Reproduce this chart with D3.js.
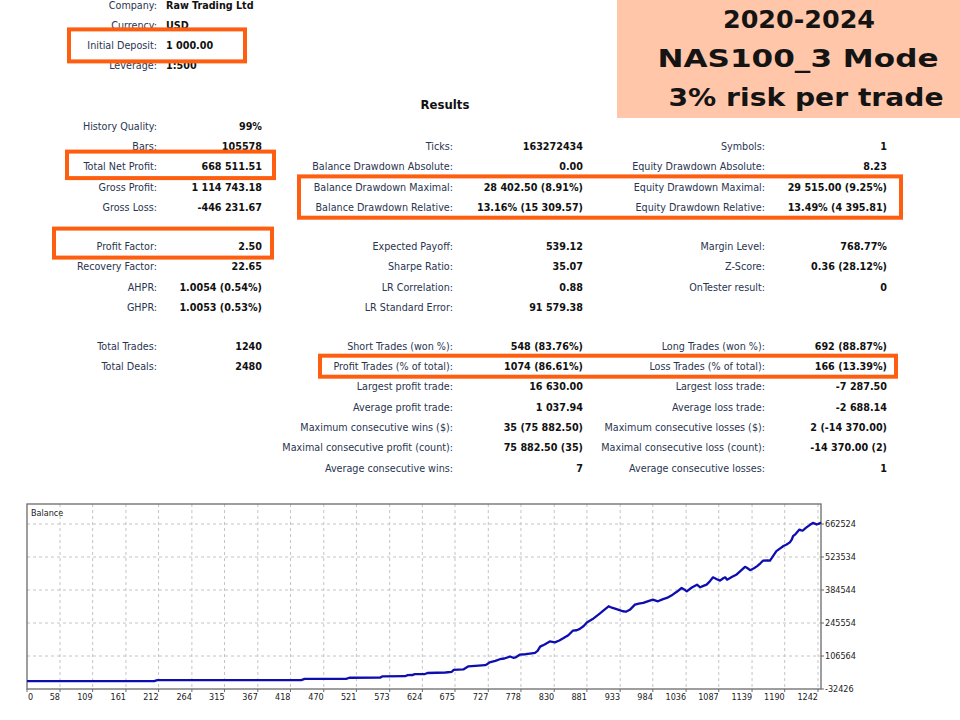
<!DOCTYPE html>
<html><head><meta charset="utf-8">
<script src="https://cdn.jsdelivr.net/npm/d3@7"></script>
<style>
html,body{margin:0;padding:0;background:#fff;}
svg{display:block;}
</style></head>
<body>
<svg id="c" width="960" height="720"></svg>
<script>
// ---------- data ----------
const headerLabels = ["Company:", "Currency:", "Initial Deposit:", "Leverage:"];
const headerValues = ["Raw Trading Ltd", "USD", "1 000.00", "1:500"];

const col1Rows   = [0, 1, 2, 3, 4, 5, 6, 7, 8, 9, 10];
const col1Labels = ["History Quality:", "Bars:", "Total Net Profit:", "Gross Profit:", "Gross Loss:",
  "Profit Factor:", "Recovery Factor:", "AHPR:", "GHPR:", "Total Trades:", "Total Deals:"];
const col1Values = ["99%", "105578", "668 511.51", "1 114 743.18", "-446 231.67",
  "2.50", "22.65", "1.0054 (0.54%)", "1.0053 (0.53%)", "1240", "2480"];

const col2Rows   = [1, 2, 3, 4, 5, 6, 7, 8, 9, 10, 11, 12, 13, 14, 15];
const col2Labels = ["Ticks:", "Balance Drawdown Absolute:", "Balance Drawdown Maximal:", "Balance Drawdown Relative:",
  "Expected Payoff:", "Sharpe Ratio:", "LR Correlation:", "LR Standard Error:",
  "Short Trades (won %):", "Profit Trades (% of total):", "Largest profit trade:", "Average profit trade:",
  "Maximum consecutive wins ($):", "Maximal consecutive profit (count):", "Average consecutive wins:"];
const col2Values = ["163272434", "0.00", "28 402.50 (8.91%)", "13.16% (15 309.57)",
  "539.12", "35.07", "0.88", "91 579.38",
  "548 (83.76%)", "1074 (86.61%)", "16 630.00", "1 037.94",
  "35 (75 882.50)", "75 882.50 (35)", "7"];

const col3Rows   = [1, 2, 3, 4, 5, 6, 7, 9, 10, 11, 12, 13, 14, 15];
const col3Labels = ["Symbols:", "Equity Drawdown Absolute:", "Equity Drawdown Maximal:", "Equity Drawdown Relative:",
  "Margin Level:", "Z-Score:", "OnTester result:",
  "Long Trades (won %):", "Loss Trades (% of total):", "Largest loss trade:", "Average loss trade:",
  "Maximum consecutive losses ($):", "Maximal consecutive loss (count):", "Average consecutive losses:"];
const col3Values = ["1", "8.23", "29 515.00 (9.25%)", "13.49% (4 395.81)",
  "768.77%", "0.36 (28.12%)", "0",
  "692 (88.87%)", "166 (13.39%)", "-7 287.50", "-2 688.14",
  "2 (-14 370.00)", "-14 370.00 (2)", "1"];

const titleLines = ["2020-2024", "NAS100_3 Mode", "3% risk per trade"];
const resultsTitle = "Results";
const chartTitle = "Balance";

// balance curve (trade number, balance)
const tradeNo = [0, 205, 210, 435, 440, 505, 510, 558, 562, 597, 601, 609, 612, 628, 632, 660, 670, 673, 688, 696,
  722, 725, 729, 738, 745, 752, 761, 766, 770, 776, 785, 792, 800, 804, 808, 815, 823, 831, 838, 844,
  852, 859, 865, 870, 876, 881, 890, 901, 910, 915, 920, 925, 932, 937, 942, 948, 956, 962, 969, 977,
  984, 992, 1000, 1006, 1015, 1022, 1029, 1033, 1037, 1045, 1053, 1058, 1063, 1068, 1073, 1078, 1084, 1089, 1094, 1097,
  1100, 1108, 1115, 1122, 1128, 1132, 1136, 1142, 1147, 1152, 1156, 1163, 1167, 1172, 1177, 1183, 1188, 1193, 1198, 1201,
  1203, 1207, 1213, 1216, 1218, 1224, 1229, 1234, 1238, 1240, 1244, 1247];
const balance = [1000, 1000, 5000, 5200, 10000, 10200, 15000, 15500, 21000, 21500, 26000, 26500, 30000, 30500, 35000, 37000, 40000, 48000, 50000, 63000,
  68000, 72000, 80000, 86000, 93000, 96000, 104500, 99000, 101000, 112000, 114000, 117000, 120000, 128000, 146000, 155000, 168000, 164000, 172000, 181000,
  194000, 213000, 215000, 221000, 233000, 248000, 262000, 285000, 305000, 316000, 310000, 306000, 300000, 295000, 293000, 301000, 323000, 327000, 330000, 338000,
  344000, 337000, 346000, 351000, 365000, 378000, 393000, 387000, 379000, 395000, 407000, 396000, 402000, 407000, 421000, 438000, 430000, 424000, 434000, 438000,
  428000, 440000, 450000, 467000, 482000, 476000, 468000, 476000, 485000, 497000, 508000, 509000, 508000, 528000, 548000, 560000, 570000, 576000, 585000, 597000,
  611000, 620000, 639000, 636000, 635000, 648000, 658000, 667000, 663000, 660500, 664000, 669511];

const xTickValues = [0, 58, 109, 161, 212, 264, 315, 367, 418, 470, 521, 573, 624, 675, 727, 778, 830, 881, 933, 984, 1036, 1087, 1139, 1190, 1242];
const yTickValues = [-32426, 106564, 245554, 384544, 523534, 662524];

// ---------- layout ----------
const FONT = "'DejaVu Sans Condensed', 'DejaVu Sans', sans-serif";
const LABEL_COLOR = "#2a3550";
const ORANGE = "#fd5e0f";
const svg = d3.select("#c");

// peach title block
svg.append("rect").attr("x", 617).attr("y", 0).attr("width", 343).attr("height", 118).attr("fill", "#ffc6a9");
const titleX = [799, 798, 806];
const titleBase = [27.5, 66.5, 106];
const titleLen = [152, 281, 275];
svg.selectAll("text.title").data(titleLines).join("text")
  .attr("class", "title")
  .attr("x", (d, i) => titleX[i]).attr("y", (d, i) => titleBase[i])
  .attr("text-anchor", "middle")
  .attr("textLength", (d, i) => titleLen[i]).attr("lengthAdjust", "spacingAndGlyphs")
  .attr("font-family", "'DejaVu Sans', sans-serif").attr("font-weight", "bold").attr("font-size", 25)
  .attr("fill", "#141414").text(d => d);

// header block
const headerY = i => 5 + i * 20.2;
const hdr = svg.append("g").attr("font-family", FONT).attr("font-size", 10.7);
hdr.selectAll("text.hl").data(headerLabels).join("text").attr("class", "hl")
  .attr("x", 157).attr("y", (d, i) => headerY(i)).attr("dy", "0.36em")
  .attr("text-anchor", "end").attr("fill", LABEL_COLOR).text(d => d);
hdr.selectAll("text.hv").data(headerValues).join("text").attr("class", "hv")
  .attr("x", 166).attr("y", (d, i) => headerY(i)).attr("dy", "0.36em")
  .attr("font-weight", "bold").attr("fill", "#111").text(d => d);

// results title
svg.append("text").attr("x", 445).attr("y", 104).attr("dy", "0.36em").attr("text-anchor", "middle")
  .attr("font-family", FONT).attr("font-size", 13).attr("font-weight", "bold").attr("fill", "#111")
  .text(resultsTitle);

// table rows
const ROW_H = 20.3, GAP = 18.6;
const rowY = r => 126 + r * ROW_H + (r >= 5 ? GAP : 0) + (r >= 9 ? GAP : 0);

function drawColumn(rows, labels, values, labelEnd, valueEnd) {
  const g = svg.append("g").attr("font-family", FONT).attr("font-size", 10.7);
  g.selectAll("text.l").data(labels).join("text").attr("class", "l")
    .attr("x", labelEnd).attr("y", (d, i) => rowY(rows[i])).attr("dy", "0.36em")
    .attr("text-anchor", "end").attr("fill", LABEL_COLOR).text(d => d);
  g.selectAll("text.v").data(values).join("text").attr("class", "v")
    .attr("x", valueEnd).attr("y", (d, i) => rowY(rows[i])).attr("dy", "0.36em")
    .attr("text-anchor", "end").attr("font-weight", "bold").attr("fill", "#111").text(d => d);
}
drawColumn(col1Rows, col1Labels, col1Values, 157, 262);
drawColumn(col2Rows, col2Labels, col2Values, 453, 583);
drawColumn(col3Rows, col3Labels, col3Values, 765, 887);

// orange highlight boxes (annotation layout)
const boxes = [
  {x0: 69, x1: 245, y0: headerY(2) - 16, y1: headerY(2) + 16},
  {x0: 67, x1: 274, y0: rowY(2) - 15, y1: rowY(2) + 11.5},
  {x0: 54, x1: 272, y0: rowY(5) - 17.5, y1: rowY(5) + 11.5},
  {x0: 299, x1: 901, y0: rowY(3) - 10.5, y1: rowY(4) + 10.5},
  {x0: 320, x1: 896, y0: rowY(10) - 10.5, y1: rowY(10) + 10.5}
];
svg.selectAll("rect.hl").data(boxes).join("rect").attr("class", "hl")
  .attr("x", d => d.x0).attr("y", d => d.y0)
  .attr("width", d => d.x1 - d.x0).attr("height", d => d.y1 - d.y0)
  .attr("fill", "none").attr("stroke", ORANGE).attr("stroke-width", 4);

// ---------- balance chart ----------
const frame = {left: 27, right: 821, top: 504, bottom: 689};
const x = d3.scaleLinear().domain([6.45, 1246.7]).range([frame.left, frame.right]).clamp(true);
const y = d3.scaleLinear().domain([-32426, 662524]).range([frame.bottom, 524]);

const chart = svg.append("g");
chart.append("rect").attr("x", frame.left).attr("y", frame.top)
  .attr("width", frame.right - frame.left).attr("height", frame.bottom - frame.top).attr("fill", "#fff");

// grid
chart.selectAll("line.gx").data(xTickValues.slice(1)).join("line").attr("class", "gx")
  .attr("x1", d => x(d)).attr("x2", d => x(d)).attr("y1", frame.top).attr("y2", frame.bottom)
  .attr("stroke", "#c4c4c4").attr("stroke-dasharray", "3,3").attr("stroke-width", 1);
chart.selectAll("line.gy").data(yTickValues.slice(1)).join("line").attr("class", "gy")
  .attr("x1", frame.left).attr("x2", frame.right).attr("y1", d => y(d)).attr("y2", d => y(d))
  .attr("stroke", "#c4c4c4").attr("stroke-dasharray", "3,3").attr("stroke-width", 1);

// frame
chart.append("rect").attr("x", frame.left).attr("y", frame.top)
  .attr("width", frame.right - frame.left).attr("height", frame.bottom - frame.top)
  .attr("fill", "none").attr("stroke", "#6a6a6a").attr("stroke-width", 1.3);

// ticks
chart.selectAll("line.tx").data(xTickValues).join("line").attr("class", "tx")
  .attr("x1", d => x(d)).attr("x2", d => x(d)).attr("y1", frame.bottom).attr("y2", frame.bottom + 3)
  .attr("stroke", "#6a6a6a");
chart.selectAll("line.ty").data(yTickValues).join("line").attr("class", "ty")
  .attr("x1", frame.right).attr("x2", frame.right + 3).attr("y1", d => y(d)).attr("y2", d => y(d))
  .attr("stroke", "#6a6a6a");

// tick labels
chart.selectAll("text.lx").data(xTickValues).join("text").attr("class", "lx")
  .attr("x", (d, i) => i === 0 ? x(d) + 1 : x(d)).attr("y", 697).attr("dy", "0.36em")
  .attr("text-anchor", (d, i) => i === 0 ? "start" : "end")
  .attr("font-family", FONT).attr("font-size", 9).attr("fill", "#222").text(d => d);
chart.selectAll("text.ly").data(yTickValues).join("text").attr("class", "ly")
  .attr("x", frame.right + 4).attr("y", d => y(d)).attr("dy", "0.36em")
  .attr("font-family", FONT).attr("font-size", 9).attr("fill", "#222").text(d => d);

chart.append("text").attr("x", 31).attr("y", 512.5).attr("dy", "0.36em")
  .attr("font-family", FONT).attr("font-size", 9).attr("fill", "#222").text(chartTitle);

// balance line
const pts = tradeNo.map((t, i) => ({t, v: balance[i]}));
chart.append("path").datum(pts)
  .attr("d", d3.line().x(d => x(d.t)).y(d => y(d.v)))
  .attr("fill", "none").attr("stroke", "#0e0eb0").attr("stroke-width", 2.3)
  .attr("stroke-linejoin", "round");
</script>
</body></html>
